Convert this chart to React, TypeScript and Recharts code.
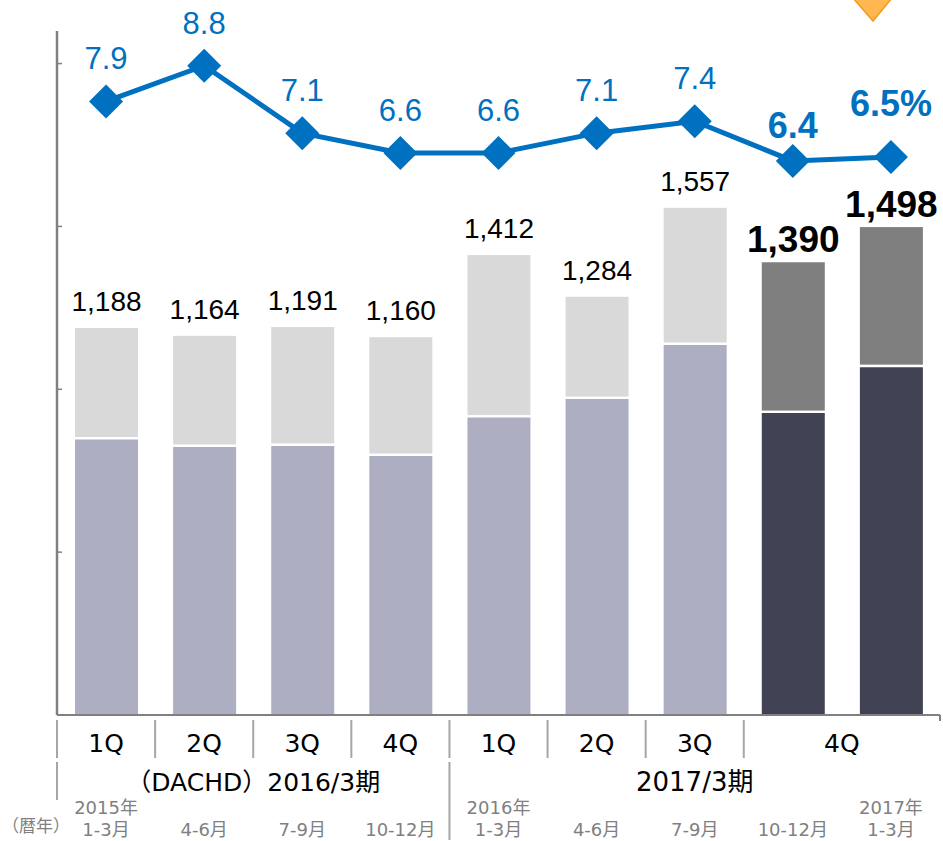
import React from 'react';
import { ComposedChart, Bar, Line, XAxis, YAxis, Cell, LabelList } from 'recharts';

const categories = [
  '2016/3期 1Q', '2016/3期 2Q', '2016/3期 3Q', '2016/3期 4Q',
  '2017/3期 1Q', '2017/3期 2Q', '2017/3期 3Q', '2017/3期 4Q(10-12月)', '2017/3期 4Q(1-3月)',
];
const quarterLabels = ['1Q', '2Q', '3Q', '4Q', '1Q', '2Q', '3Q', '4Q', ''];
const periodLabels = ['（DACHD）2016/3期', '2017/3期'];
const yearLabels = ['2015年', '', '', '', '2016年', '', '', '', '2017年'];
const monthLabels = ['1-3月', '4-6月', '7-9月', '10-12月', '1-3月', '4-6月', '7-9月', '10-12月', '1-3月'];
const calendarLabel = '（暦年）';
const baseValues = [846, 823, 826, 795, 913, 970, 1136, 927, 1068];
const totalValues = [1188, 1164, 1191, 1160, 1412, 1284, 1557, 1390, 1498];
const marginRates = [7.9, 8.8, 7.1, 6.6, 6.6, 7.1, 7.4, 6.4, 6.5];
const yTicks = [0, 500, 1000, 1500, 2000];

const data = categories.map((name, i) => ({
  name,
  base: baseValues[i],
  upper: totalValues[i] - baseValues[i],
  total: totalValues[i],
  rate: marginRates[i],
}));

const W = 943;
const H = 841;
const M = { top: 31, right: 3, bottom: 0, left: 0 };
const YW = 57;
const XH = 126;
const BAND = (W - M.right - YW) / categories.length;
const HALF = BAND / 2;

const BLUE = '#0070C0';
const NUM_FONT = '"Liberation Sans", Arial, sans-serif';
const JP_FONT = '"DejaVu Sans", "Noto Sans CJK JP", sans-serif';
const SEP = '#A6A6A6';

const isHighlight = (i: number) => i >= 7;

const EmptyTick = () => <g />;

const XTick = (props: any) => {
  const { x, y, payload } = props;
  const i = payload.index;
  const els: any[] = [];
  if (i <= 7) {
    els.push(<line key="s" x1={x - HALF} x2={x - HALF} y1={y + 5} y2={y + 43} stroke={SEP} strokeWidth={2} />);
  }
  if (i === 0) {
    els.push(<line key="s2" x1={x - HALF} x2={x - HALF} y1={y + 47} y2={y + 85} stroke={SEP} strokeWidth={2} />);
    els.push(
      <text key="cal" x={x - 70} y={y + 111} textAnchor="middle" dominantBaseline="central" fontSize={17} fill="#808080" fontFamily={JP_FONT}>
        {calendarLabel}
      </text>
    );
    els.push(
      <text key="p" x={x + BAND * 1.5} y={y + 67} textAnchor="middle" dominantBaseline="central" fontSize={25} fill="#000" fontFamily={JP_FONT}>
        {periodLabels[0]}
      </text>
    );
  }
  if (i === 4) {
    els.push(<line key="s2" x1={x - HALF} x2={x - HALF} y1={y + 47} y2={y + 125} stroke={SEP} strokeWidth={2} />);
    els.push(
      <text key="p" x={x + BAND * 2} y={y + 67} textAnchor="middle" dominantBaseline="central" fontSize={26} fill="#000" fontFamily={JP_FONT}>
        {periodLabels[1]}
      </text>
    );
  }
  if (i === 8) {
    els.push(<line key="h" x1={x + HALF} x2={x + HALF} y1={y} y2={y + 6} stroke="#808080" strokeWidth={2} />);
  }
  const qx = i === 7 ? x + HALF : x;
  if (quarterLabels[i]) {
    els.push(
      <text key="q" x={qx} y={y + 28} textAnchor="middle" dominantBaseline="central" fontSize={25} fill="#000" fontFamily={JP_FONT}>
        {quarterLabels[i]}
      </text>
    );
  }
  if (yearLabels[i]) {
    els.push(
      <text key="yr" x={x} y={y + 92} textAnchor="middle" dominantBaseline="central" fontSize={18} fill="#808080" fontFamily={JP_FONT}>
        {yearLabels[i]}
      </text>
    );
  }
  els.push(
    <text key="m" x={x} y={y + 114} textAnchor="middle" dominantBaseline="central" fontSize={18} fill="#808080" fontFamily={JP_FONT}>
      {monthLabels[i]}
    </text>
  );
  return <g>{els}</g>;
};

const UpperShape = (p: any) => {
  const h = Math.max(0, p.height - 2.5);
  return <rect x={p.x} y={p.y} width={p.width} height={h} fill={isHighlight(p.index) ? '#7F7F7F' : '#D9D9D9'} />;
};

const BarLabel = (p: any) => {
  const { x, y, width, value, index } = p;
  const hi = isHighlight(index);
  return (
    <text
      x={x + width / 2}
      y={y - (hi ? 10 : 17)}
      textAnchor="middle"
      fontSize={hi ? 37 : 28}
      fontWeight={hi ? 'bold' : 'normal'}
      fill="#000"
      fontFamily={NUM_FONT}
    >
      {Number(value).toLocaleString('en-US')}
    </text>
  );
};

const DiamondDot = (p: any) => {
  const { cx, cy } = p;
  const r = 17;
  return <polygon key={`d${p.index}`} points={`${cx},${cy - r} ${cx + r},${cy} ${cx},${cy + r} ${cx - r},${cy}`} fill={BLUE} />;
};

const RateLabel = (p: any) => {
  const { x, y, value, index } = p;
  const hi = isHighlight(index);
  const last = index === categories.length - 1;
  const off = last ? 41 : hi ? 23 : 32;
  const txt = last ? `${Number(value).toFixed(1)}%` : Number(value).toFixed(1);
  return (
    <text
      x={x}
      y={y - off}
      textAnchor="middle"
      fontSize={hi ? 36 : 31}
      fontWeight={hi ? 'bold' : 'normal'}
      fill={BLUE}
      fontFamily={NUM_FONT}
    >
      {txt}
    </text>
  );
};

export default function App() {
  return (
    <div style={{ position: 'absolute', left: 0, top: 0, width: W, height: H, background: '#fff' }}>
      <ComposedChart width={W} height={H} data={data} margin={M}>
        <XAxis
          dataKey="name"
          interval={0}
          height={XH}
          tickLine={false}
          tickSize={0}
          tickMargin={0}
          axisLine={{ stroke: '#808080', strokeWidth: 2 }}
          tick={<XTick />}
        />
        <YAxis
          yAxisId="left"
          width={YW}
          domain={[0, 2100]}
          ticks={yTicks}
          axisLine={{ stroke: '#808080', strokeWidth: 2.5 }}
          tickLine={{ stroke: '#808080', strokeWidth: 1.5 }}
          tickSize={-5}
          tick={<EmptyTick />}
        />
        <YAxis yAxisId="pct" orientation="right" hide domain={[-7.567, 9.675]} />
        <Bar yAxisId="left" dataKey="base" stackId="a" barSize={63} isAnimationActive={false}>
          {data.map((d, i) => (
            <Cell key={d.name} fill={isHighlight(i) ? '#414254' : '#ADAEC1'} />
          ))}
        </Bar>
        <Bar yAxisId="left" dataKey="upper" stackId="a" barSize={63} shape={<UpperShape />} isAnimationActive={false}>
          {data.map((d, i) => (
            <Cell key={d.name} fill={isHighlight(i) ? '#7F7F7F' : '#D9D9D9'} />
          ))}
          <LabelList dataKey="total" content={<BarLabel />} />
        </Bar>
        <Line
          yAxisId="pct"
          dataKey="rate"
          type="linear"
          stroke={BLUE}
          strokeWidth={5}
          dot={<DiamondDot />}
          activeDot={false}
          isAnimationActive={false}
        >
          <LabelList dataKey="rate" content={<RateLabel />} />
        </Line>
      </ComposedChart>
      <svg width={W} height={H} style={{ position: 'absolute', left: 0, top: 0, pointerEvents: 'none' }}>
        <polygon points="853,-2 892,-2 873,21" fill="#FFB850" stroke="#F59B1C" strokeWidth={1.5} />
      </svg>
    </div>
  );
}
